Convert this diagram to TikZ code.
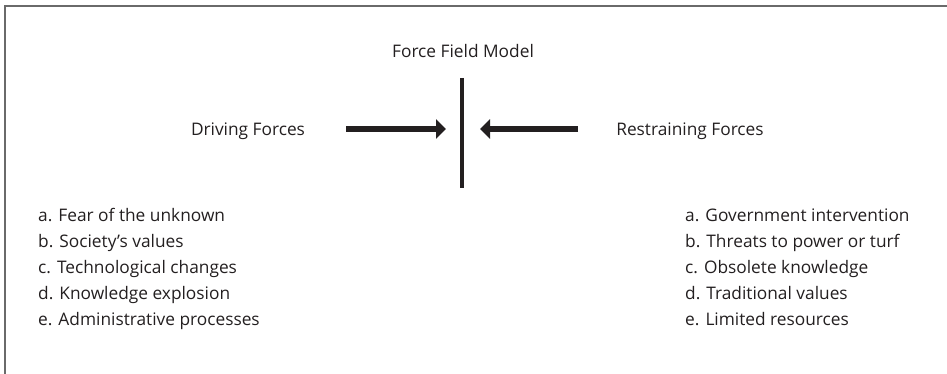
\documentclass[tikz,border=0pt]{standalone}
\usepackage{fontspec}
\setmainfont{Open Sans}
\usetikzlibrary{arrows.meta}
\definecolor{ink}{HTML}{231F20}
\definecolor{frame}{HTML}{6A6A6A}
\begin{document}
\begin{tikzpicture}[x=1pt,y=-1pt,
  lbl/.style={inner sep=0pt,text=ink,font=\fontsize{17.3}{20}\selectfont},
  item/.style={lbl,anchor=base west},
  force/.style={line width=6pt,draw=ink,-{Triangle[length=10pt,width=19pt]}}]
\useasboundingbox (0,0) rectangle (947,374);
\draw[frame,line width=1.5pt] (5,374) -- (5,6) -- (947,6);
\node[lbl,anchor=base] (title) at (463,58) {Force Field Model};
\coordinate (bartop) at (462,78);
\coordinate (barbot) at (462,188);
\draw[ink,line width=4.5pt] (bartop) -- (barbot);
\node[lbl,anchor=base] (driving) at (248,136) {Driving Forces};
\node[lbl,anchor=base] (restraining) at (690,136) {Restraining Forces};
\coordinate (ls) at (346,129);
\coordinate (lt) at (446,129);
\coordinate (rs) at (578,129);
\coordinate (rt) at (480,129);
\draw[force] (ls) -- (lt);
\draw[force] (rs) -- (rt);
\node[item] (l1) at (38,221) {a. Fear of the unknown};
\node[item] (l2) at (38,247) {b. Society’s values};
\node[item] (l3) at (38,273) {c. Technological changes};
\node[item] (l4) at (38,299) {d. Knowledge explosion};
\node[item] (l5) at (38,325) {e. Administrative processes};
\node[item] (r1) at (685,221) {a. Government intervention};
\node[item] (r2) at (685,247) {b. Threats to power or turf};
\node[item] (r3) at (685,273) {c. Obsolete knowledge};
\node[item] (r4) at (685,299) {d. Traditional values};
\node[item] (r5) at (685,325) {e. Limited resources};
\end{tikzpicture}
\end{document}
